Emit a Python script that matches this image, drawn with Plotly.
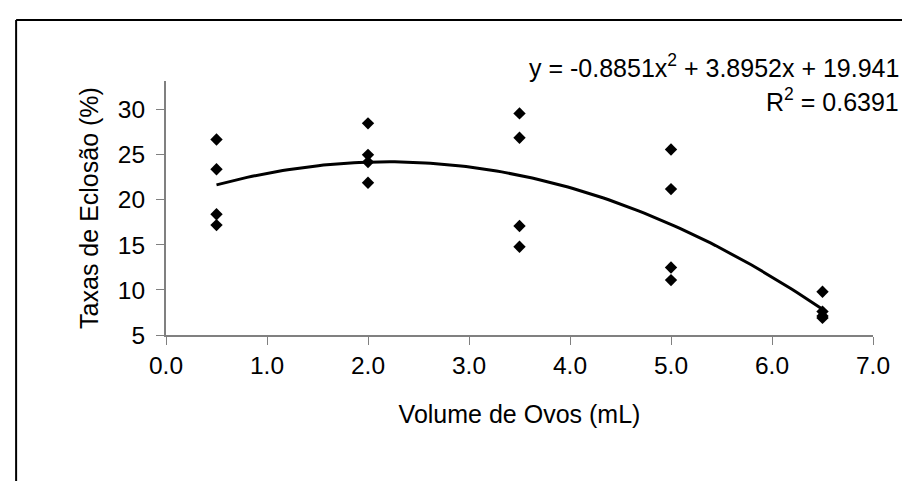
import numpy as np
import plotly.graph_objects as go

# Data
volume_ml = [0.5, 0.5, 0.5, 0.5,
             2.0, 2.0, 2.0, 2.0,
             3.5, 3.5, 3.5, 3.5,
             5.0, 5.0, 5.0, 5.0,
             6.5, 6.5, 6.5, 6.5]
taxa_eclosao = [26.7, 23.4, 18.4, 17.2,
                28.5, 25.0, 24.2, 21.9,
                29.6, 26.9, 17.1, 14.8,
                25.6, 21.2, 12.5, 11.1,
                9.8, 7.6, 7.1, 6.9]

# Trendline coefficients as printed on the chart (a, b, c)
trend_coefs = [-0.8851, 3.8952, 19.941]
r_squared = 0.6391

x_ticks = [0, 1, 2, 3, 4, 5, 6, 7]
x_tick_labels = ["0.0", "1.0", "2.0", "3.0", "4.0", "5.0", "6.0", "7.0"]
y_ticks = [5, 10, 15, 20, 25, 30]

xs = np.linspace(min(volume_ml), max(volume_ml), 120)
ys = np.polyval(trend_coefs, xs)

FONT = "Liberation Sans, Arial, sans-serif"
FS_TICK = 24.5
FS_TITLE = 25
FS_EQ = 25

fig = go.Figure()
fig.add_trace(go.Scatter(x=volume_ml, y=taxa_eclosao, mode="markers",
                         marker=dict(symbol="diamond", size=9.5, color="black"),
                         showlegend=False, hoverinfo="x+y"))
fig.add_trace(go.Scatter(x=xs, y=ys, mode="lines",
                         line=dict(color="black", width=3),
                         showlegend=False, hoverinfo="skip"))

fig.update_layout(
    width=910, height=481,
    margin=dict(l=158, r=45, t=73, b=154),
    paper_bgcolor="white", plot_bgcolor="white",
    font=dict(family=FONT, size=FS_TICK, color="black"),
    xaxis=dict(range=[0, 7], tickvals=x_ticks, ticktext=x_tick_labels,
               showgrid=False, zeroline=False, showline=True,
               linecolor="#808080", linewidth=2, ticks="outside",
               ticklen=8, tickcolor="#808080", tickwidth=1,
               ticklabelstandoff=0,
               tickfont=dict(size=FS_TICK),
               title=dict(text="Volume de Ovos (mL)", standoff=27,
                          font=dict(size=FS_TITLE))),
    yaxis=dict(range=[5, 33.2], tickvals=y_ticks,
               showgrid=False, zeroline=False, showline=True,
               linecolor="#808080", linewidth=2, ticks="outside",
               ticklen=8, tickcolor="#808080", tickwidth=1,
               ticklabelstandoff=6,
               tickfont=dict(size=FS_TICK),
               title=dict(text="Taxas de Eclosão (%)", standoff=12,
                          font=dict(size=FS_TITLE))),
    annotations=[
        dict(xref="paper", yref="paper", x=1.04, y=1.06,
             xanchor="right", yanchor="middle", showarrow=False,
             text="y = %sx<sup>2</sup> + %sx + %s" % (trend_coefs[0], trend_coefs[1], trend_coefs[2]),
             font=dict(family=FONT, size=FS_EQ)),
        dict(xref="paper", yref="paper", x=1.04, y=0.925,
             xanchor="right", yanchor="middle", showarrow=False,
             text="R<sup>2</sup> = %s" % r_squared,
             font=dict(family=FONT, size=FS_EQ)),
    ],
    shapes=[
        dict(type="line", xref="paper", yref="paper",
             x0=-0.212, y0=1.24, x1=1.2, y1=1.24,
             line=dict(color="black", width=2)),
        dict(type="line", xref="paper", yref="paper",
             x0=-0.212, y0=1.24, x1=-0.212, y1=-0.7,
             line=dict(color="black", width=2)),
    ],
)

fig.write_html("out.html")
